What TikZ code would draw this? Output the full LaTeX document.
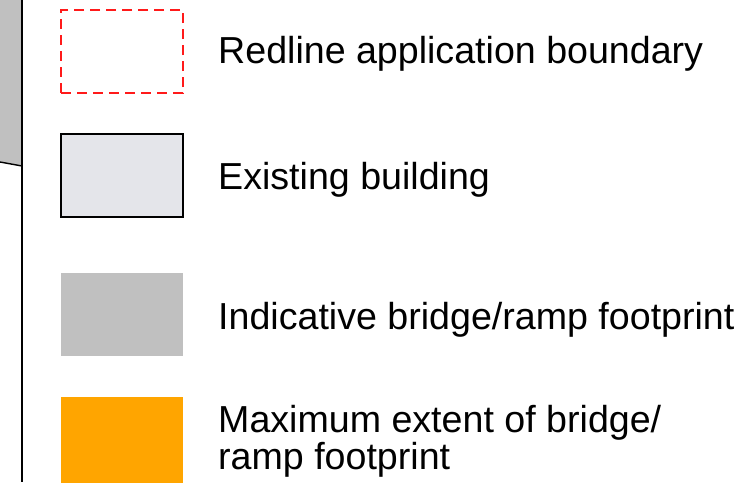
\documentclass[tikz,border=0pt]{standalone}
\usepackage{fontspec}
\setmainfont{Liberation Sans}
\usepackage{xcolor}
\definecolor{redline}{HTML}{FF1A1A}
\definecolor{bldgfill}{HTML}{E4E5EA}
\definecolor{rampgrey}{HTML}{C0C0C0}
\definecolor{extentorange}{HTML}{FFA500}
\usetikzlibrary{positioning}
\newcommand{\keyfont}{\fontsize{37.6}{32}\selectfont}
\tikzset{
  keybox/.style={minimum width=122pt, minimum height=83pt, inner sep=0pt,
                 outer sep=0pt, anchor=north west},
  keytext/.style={anchor=base west, inner sep=0pt, font=\keyfont, align=left},
}

\begin{document}
\begin{tikzpicture}[x=1pt, y=-1pt]
  \useasboundingbox (0,0) rectangle (751,482);

  % cut-off plan on the left edge
  \fill[rampgrey] (0,0) -- (22,0) -- (22,166) -- (0,162) -- cycle;
  \draw[black, line width=1.4pt] (0,162) -- (22,166);
  \draw[black, line width=1.6pt] (22,0) -- (22,482);

  % key boxes
  \node[keybox, draw=redline, line width=2pt, dash pattern=on 10pt off 6pt]
    (boundary) at (61,10) {};
  \node[keybox, draw=black, fill=bldgfill, line width=1.8pt]
    (building) at (61,134) {};
  \node[keybox, fill=rampgrey] (footprint) at (61,273) {};
  \node[keybox, fill=extentorange, minimum height=86pt] (extent) at (61,397) {};

  % key texts (multi-line text sits on its last baseline)
  \node[keytext] (boundarytxt) at (218,63) {Redline application boundary};
  \node[keytext] (buildingtxt) at (218,189) {Existing building};
  \node[keytext] (footprinttxt) at (218,329) {Indicative bridge/ramp footprint};
  \node[keytext] (extenttxt) at (218,469)
    {Maximum extent of bridge/\\ramp footprint};
\end{tikzpicture}
\end{document}
